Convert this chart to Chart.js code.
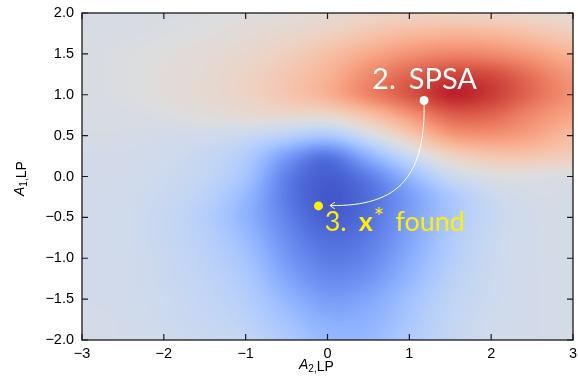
<!DOCTYPE html>
<html>
<head>
<meta charset="utf-8">
<script src="https://cdn.jsdelivr.net/npm/chart.js@4.4.1/dist/chart.umd.min.js"></script>
<style>
  html, body { margin: 0; padding: 0; background: #fff; }
  canvas { display: block; }
</style>
</head>
<body>
<canvas id="map" width="578" height="389"></canvas>
<script>
// grid of the landscape (colormap position 0..1, 0.5 = neutral)
const gridX = [-3, -2.5, -2, -1.5, -1, -0.5, 0, 0.5, 1, 1.5, 2, 2.5, 3];
const gridY = [2, 1.75, 1.5, 1.25, 1, 0.75, 0.5, 0.25, 0, -0.25, -0.5, -0.75, -1, -1.25, -1.5, -1.75, -2];
const heat = [
  [.47, .48, .48, .49, .50, .51, .53, .55, .56, .56, .55, .54, .52],
  [.48, .48, .49, .50, .52, .54, .57, .62, .66, .68, .67, .63, .59],
  [.48, .49, .50, .52, .54, .58, .64, .71, .77, .80, .79, .74, .68],
  [.48, .49, .51, .53, .56, .61, .68, .79, .87, .93, .92, .84, .75],
  [.48, .49, .51, .53, .56, .62, .69, .81, .90, .99, .95, .86, .77],
  [.48, .48, .49, .51, .53, .54, .55, .63, .76, .88, .87, .79, .72],
  [.47, .47, .46, .45, .43, .38, .33, .46, .60, .75, .77, .73, .65],
  [.46, .46, .45, .42, .36, .19, .07, .25, .43, .56, .62, .62, .59],
  [.46, .46, .44, .41, .33, .11, .03, .10, .27, .43, .49, .49, .48],
  [.46, .45, .43, .39, .28, .10, .02, .07, .19, .33, .43, .47, .47],
  [.46, .45, .42, .37, .26, .12, .03, .08, .20, .33, .42, .46, .47],
  [.46, .45, .42, .38, .29, .15, .07, .10, .21, .35, .43, .46, .47],
  [.46, .45, .43, .39, .32, .18, .10, .13, .24, .36, .43, .46, .47],
  [.46, .45, .43, .40, .35, .22, .14, .17, .27, .38, .44, .46, .47],
  [.46, .45, .44, .41, .37, .27, .19, .22, .31, .40, .44, .46, .47],
  [.47, .46, .44, .42, .39, .31, .24, .25, .33, .41, .45, .46, .47],
  [.47, .46, .45, .43, .41, .35, .28, .28, .35, .41, .45, .46, .47]
];

const xTicks = [-3, -2, -1, 0, 1, 2, 3];
const yTicks = [-2, -1.5, -1, -0.5, 0, 0.5, 1, 1.5, 2];

const spsaPoint = [1.18, 0.93];
const foundPoint = [-0.11, -0.36];
// arrow from SPSA point to found point (cubic curve)
const arrowBend1 = [1.20, 0.02];
const arrowBend2 = [0.89, -0.37];
const arrowTip = [0.03, -0.355];
const spsaLabelAt = [0.545, 1.07];
const foundLabelAt = [-0.035, -0.667];

// coolwarm colormap
const coolwarm = [
  [59,76,192],[68,90,204],[77,104,215],[87,117,225],[98,130,234],[108,142,241],[119,154,247],[130,165,251],
  [141,176,254],[152,185,255],[163,194,255],[174,201,253],[184,208,249],[194,213,244],[204,217,238],[213,219,230],
  [221,221,221],[229,216,209],[236,211,197],[241,204,185],[245,196,173],[247,187,160],[247,177,148],[247,166,135],
  [244,154,123],[241,141,111],[236,127,99],[229,112,88],[222,96,77],[213,80,66],[203,62,56],[192,40,47],[180,4,38]
];
const lut = [];
for (let k = 0; k < 256; k++) {
  const f = k / 255 * (coolwarm.length - 1);
  const i = Math.min(Math.floor(f), coolwarm.length - 2);
  const u = f - i;
  lut.push(coolwarm[i].map((c, n) => Math.round(c + (coolwarm[i + 1][n] - c) * u)));
}

const minus = v => String(v).replace('-', '\u2212');
const noPad = s => { s.paddingTop = s.paddingBottom = s.paddingLeft = s.paddingRight = 0; };

const heatPlugin = {
  id: 'heat',
  beforeDatasetsDraw(chart) {
    const {ctx, chartArea: a, scales: {x, y}} = chart;
    const nx = gridX.length, ny = gridY.length;
    const small = document.createElement('canvas');
    small.width = nx; small.height = ny;
    const sctx = small.getContext('2d');
    const img = sctx.createImageData(nx, ny);
    for (let j = 0; j < ny; j++) {
      for (let i = 0; i < nx; i++) {
        const v = Math.round(heat[j][i] * 255);
        const p = (j * nx + i) * 4;
        img.data[p] = img.data[p + 1] = img.data[p + 2] = v;
        img.data[p + 3] = 255;
      }
    }
    sctx.putImageData(img, 0, 0);

    const left = Math.round(a.left), top = Math.round(a.top);
    const w = Math.round(a.right) - left, h = Math.round(a.bottom) - top;
    const big = document.createElement('canvas');
    big.width = w; big.height = h;
    const bctx = big.getContext('2d');
    bctx.imageSmoothingEnabled = true;
    bctx.imageSmoothingQuality = 'high';
    const hx = (gridX[1] - gridX[0]) / 2, hy = (gridY[0] - gridY[1]) / 2;
    const x0 = x.getPixelForValue(gridX[0] - hx) - left;
    const x1 = x.getPixelForValue(gridX[nx - 1] + hx) - left;
    const y0 = y.getPixelForValue(gridY[0] + hy) - top;
    const y1 = y.getPixelForValue(gridY[ny - 1] - hy) - top;
    bctx.drawImage(small, x0, y0, x1 - x0, y1 - y0);
    const d = bctx.getImageData(0, 0, w, h);
    for (let p = 0; p < d.data.length; p += 4) {
      const c = lut[d.data[p]];
      d.data[p] = c[0]; d.data[p + 1] = c[1]; d.data[p + 2] = c[2]; d.data[p + 3] = 255;
    }
    bctx.putImageData(d, 0, 0);
    ctx.drawImage(big, left, top);

    // arrow
    const px = pt => [x.getPixelForValue(pt[0]), y.getPixelForValue(pt[1])];
    const s = px(spsaPoint), c1 = px(arrowBend1), c2 = px(arrowBend2), t = px(arrowTip);
    ctx.save();
    ctx.strokeStyle = '#fff';
    ctx.lineWidth = 1;
    ctx.beginPath();
    ctx.moveTo(s[0], s[1]);
    ctx.bezierCurveTo(c1[0], c1[1], c2[0], c2[1], t[0], t[1]);
    ctx.stroke();
    const ang = Math.atan2(t[1] - c2[1], t[0] - c2[0]);
    const L = 6, spread = 0.6;
    ctx.beginPath();
    ctx.moveTo(t[0] - L * Math.cos(ang - spread), t[1] - L * Math.sin(ang - spread));
    ctx.lineTo(t[0], t[1]);
    ctx.lineTo(t[0] - L * Math.cos(ang + spread), t[1] - L * Math.sin(ang + spread));
    ctx.stroke();
    ctx.restore();
  },
  afterDatasetsDraw(chart) {
    const {ctx, scales: {x, y}} = chart;
    ctx.save();
    ctx.textBaseline = 'alphabetic';
    ctx.textAlign = 'left';
    // 2. SPSA
    let ax = x.getPixelForValue(spsaLabelAt[0]), ay = y.getPixelForValue(spsaLabelAt[1]);
    ctx.fillStyle = '#fff';
    ctx.font = '29px Lato';
    ctx.fillText('2.', ax, ay);
    ctx.fillText('SPSA', ax + ctx.measureText('2.').width + 13, ay);
    // 3. x* found
    ax = x.getPixelForValue(foundLabelAt[0]); ay = y.getPixelForValue(foundLabelAt[1]);
    ctx.fillStyle = '#fff000';
    ctx.font = '27px Lato';
    ctx.fillText('3.', ax, ay);
    let cx = ax + ctx.measureText('3.').width + 12;
    ctx.font = 'bold 27px Lato';
    ctx.fillText('x', cx, ay);
    cx += ctx.measureText('x').width + 1;
    ctx.font = '25px Lato';
    ctx.fillText('*', cx, ay - 5);
    cx += ctx.measureText('*').width + 11;
    ctx.font = '27px Lato';
    ctx.fillText('found', cx, ay);
    ctx.restore();
  },
  afterDraw(chart) {
    const {ctx, chartArea: a, scales: {x, y}} = chart;
    ctx.save();
    ctx.strokeStyle = '#1a1a1a';
    ctx.lineWidth = 1.3;
    ctx.strokeRect(a.left, a.top, a.right - a.left, a.bottom - a.top);
    ctx.lineWidth = 1.2;
    ctx.beginPath();
    const tl = 6;
    xTicks.forEach(v => {
      const p = x.getPixelForValue(v);
      ctx.moveTo(p, a.bottom); ctx.lineTo(p, a.bottom - tl);
      ctx.moveTo(p, a.top); ctx.lineTo(p, a.top + tl);
    });
    yTicks.forEach(v => {
      const p = y.getPixelForValue(v);
      ctx.moveTo(a.left, p); ctx.lineTo(a.left + tl, p);
      ctx.moveTo(a.right, p); ctx.lineTo(a.right - tl, p);
    });
    ctx.stroke();

    // axis titles
    ctx.fillStyle = '#000';
    ctx.textBaseline = 'alphabetic';
    ctx.textAlign = 'left';
    const title = (sub) => {
      ctx.font = 'italic 14px "Liberation Sans"';
      ctx.fillText('A', 0, 0);
      let w = ctx.measureText('A').width;
      ctx.font = '10px "Liberation Sans"';
      ctx.fillText(sub + ',', w, 3);
      w += ctx.measureText(sub + ',').width;
      ctx.font = '14px "Liberation Sans"';
      ctx.fillText('LP', w, 1.5);
    };
    ctx.save();
    ctx.translate(299, 369);
    title('2');
    ctx.restore();
    ctx.save();
    ctx.translate(24, 196);
    ctx.rotate(-Math.PI / 2);
    title('1');
    ctx.restore();
    ctx.restore();
  }
};

const tickFont = {family: 'Liberation Sans', size: 14.5};

new Chart(document.getElementById('map'), {
  type: 'scatter',
  data: {
    datasets: [
      {data: [{x: spsaPoint[0], y: spsaPoint[1]}], backgroundColor: '#ffffff', pointRadius: 4.5, pointBorderWidth: 0},
      {data: [{x: foundPoint[0], y: foundPoint[1]}], backgroundColor: '#fff000', pointRadius: 4.5, pointBorderWidth: 0}
    ]
  },
  options: {
    responsive: false,
    animation: false,
    devicePixelRatio: 1,
    layout: {padding: {top: 13, right: 5, left: 0, bottom: 0}},
    plugins: {legend: {display: false}, tooltip: {enabled: false}},
    scales: {
      x: {
        type: 'linear', min: -3, max: 3,
        afterBuildTicks: s => { s.ticks = xTicks.map(v => ({value: v})); },
        afterFit: s => { s.height = 49; noPad(s); },
        grid: {display: false, drawTicks: false},
        border: {display: false},
        ticks: {font: tickFont, color: '#000', padding: 5, maxRotation: 0, callback: v => minus(v)}
      },
      y: {
        type: 'linear', min: -2, max: 2,
        afterBuildTicks: s => { s.ticks = yTicks.map(v => ({value: v})); },
        afterFit: s => { s.width = 82; noPad(s); },
        grid: {display: false, drawTicks: false},
        border: {display: false},
        ticks: {font: tickFont, color: '#000', padding: 8, callback: v => minus(Number(v).toFixed(1))}
      }
    }
  },
  plugins: [heatPlugin]
});
</script>
</body>
</html>
